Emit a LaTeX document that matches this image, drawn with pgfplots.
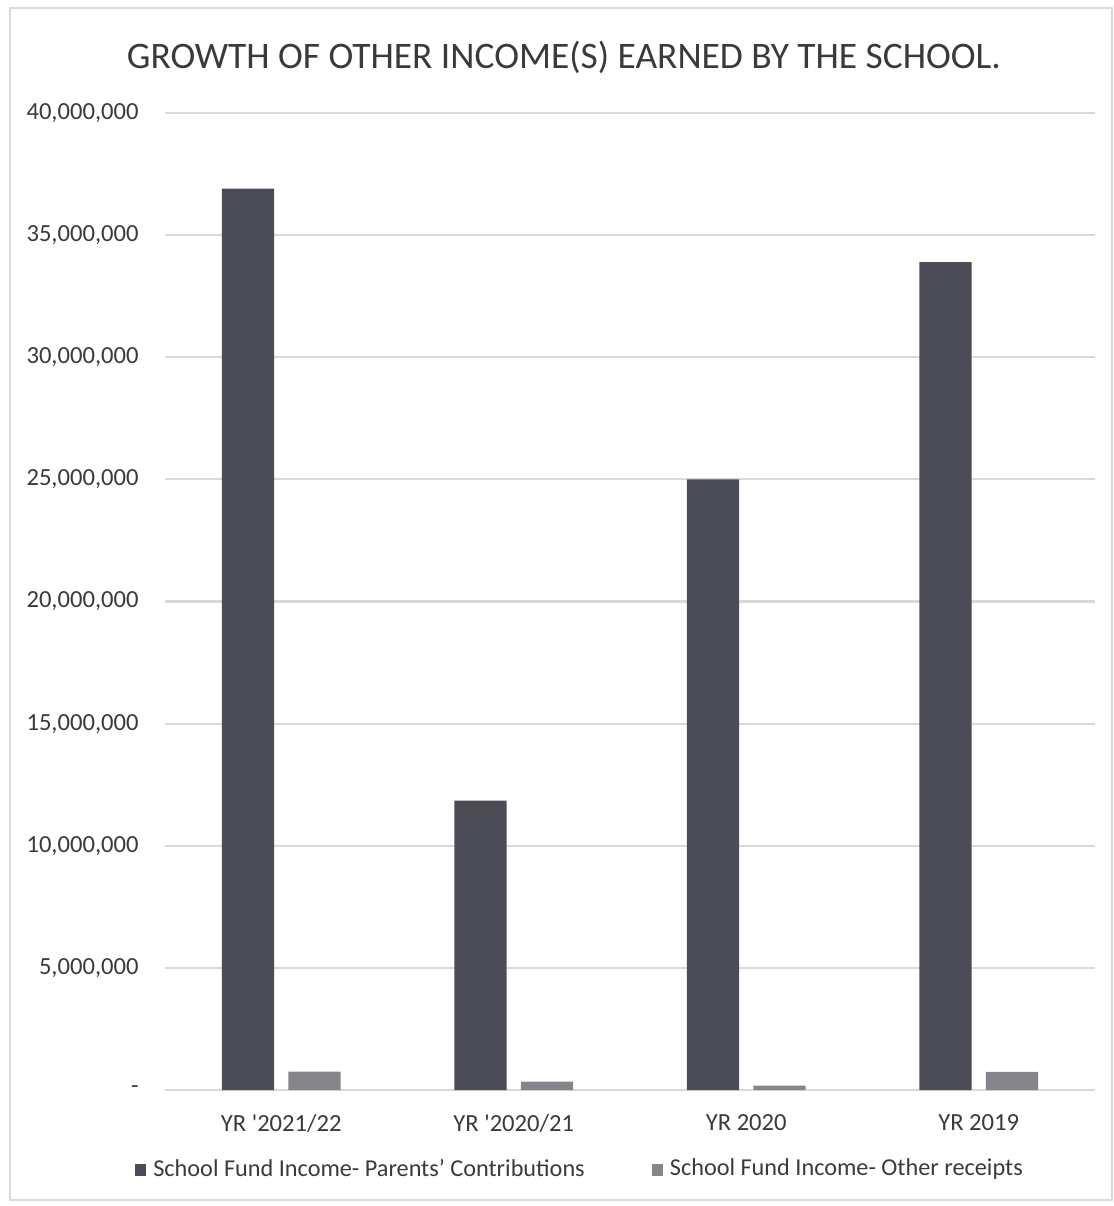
\documentclass[border=0pt]{standalone}
\usepackage{pgfplots}
\pgfplotsset{compat=1.18}
\usepackage{fontspec}
\setmainfont{Carlito}
\definecolor{darkbar}{HTML}{4C4C56}
\definecolor{lightbar}{HTML}{85858B}
\definecolor{gridc}{HTML}{D9D9D9}
\definecolor{txt}{HTML}{3A3A3A}
\begin{document}
\begin{tikzpicture}
\useasboundingbox (0,0) rectangle (11.14cm,12.06cm);
\draw[gridc, line width=0.4pt] (0.1cm,0.06cm) rectangle (11.12cm,11.98cm);
\node[font=\fontsize{10.65pt}{12pt}\selectfont, text=txt] at (5.64cm,11.49cm) {GROWTH OF OTHER INCOME(S) EARNED BY THE SCHOOL.};
\begin{axis}[
  at={(1.65cm,1.16cm)}, anchor=south west,
  scale only axis, width=9.3cm, height=9.77cm,
  ybar, bar width=0.225,
  xmin=-0.5, xmax=3.5, ymin=0, ymax=40000000,
  xtick={0,1,2,3},
  xticklabels={{YR \textquotesingle 2021/22},{YR \textquotesingle 2020/21},{YR 2020},{YR 2019}},
  ytick={0,5000000,10000000,15000000,20000000,25000000,30000000,35000000,40000000},
  yticklabels={-,{5,000,000},{10,000,000},{15,000,000},{20,000,000},{25,000,000},{30,000,000},{35,000,000},{40,000,000}},
  scaled y ticks=false,
  ymajorgrids, grid style={gridc, line width=0.6pt},
  axis x line*=bottom, axis y line*=left,
  x axis line style={gridc, line width=0.8pt},
  y axis line style={draw=none},
  major tick length=0pt,
  tick label style={font=\fontsize{7pt}{8pt}\selectfont, text=txt},
  yticklabel style={xshift=-0.14cm},
  xticklabel style={yshift=-0.12cm},
  legend columns=2,
  legend style={at={(0.449,-0.082)}, anchor=center, draw=none, fill=none,
    font=\fontsize{6.9pt}{8pt}\selectfont, text=txt,
    /tikz/every even column/.append style={column sep=0.6cm}},
  legend image code/.code={\fill[#1] (0cm,-0.06cm) rectangle (0.11cm,0.06cm);},
]
\addplot[fill=darkbar, draw=none, bar shift=-0.143] coordinates {(0,36900000) (1,11850000) (2,25000000) (3,33900000)};
\addplot[fill=lightbar, draw=none, bar shift=0.143] coordinates {(0,750000) (1,340000) (2,180000) (3,740000)};
\legend{School Fund Income- Parents’ Contributions, School Fund Income- Other receipts}
\end{axis}
\end{tikzpicture}
\end{document}
